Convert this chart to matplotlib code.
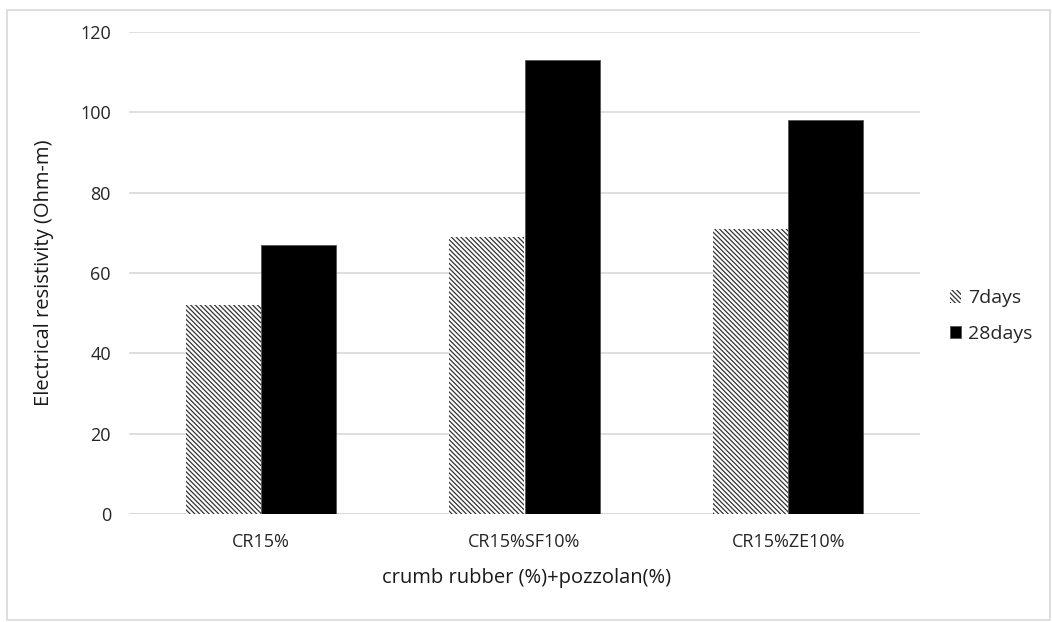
import matplotlib
matplotlib.use("Agg")
import matplotlib.pyplot as plt
import numpy as np
from matplotlib.patches import Rectangle

categories = ["CR15%", "CR15%SF10%", "CR15%ZE10%"]
days7 = [52, 69, 71]
days28 = [67, 113, 98]
yticks = [0, 20, 40, 60, 80, 100, 120]

plt.rcParams['font.family'] = ['Open Sans', 'DejaVu Sans']
plt.rcParams['hatch.linewidth'] = 0.9

fig = plt.figure(figsize=(10.52, 6.22), dpi=100)
ax = fig.add_axes([129/1052, 1-514/622, (920-129)/1052, (514-32)/622])

x = np.arange(len(categories))
w = 0.285
ax.bar(x - w/2, days7, w, facecolor='white', edgecolor='#333333', linewidth=0,
       hatch='\\' * 7, label='7days', zorder=3)
ax.bar(x + w/2, days28, w, color='black', edgecolor='#555555', linewidth=0.6, label='28days', zorder=3)

ax.set_xlim(-0.5, 2.5)
ax.set_ylim(0, 120)
ax.set_yticks(yticks)
ax.yaxis.grid(True, color='#d9d9d9', linewidth=1.2, zorder=0)
ax.set_axisbelow(True)
for s in ax.spines.values():
    s.set_visible(False)
ax.tick_params(length=0, labelsize=13, colors='#262626')
ax.tick_params(axis='y', pad=13)
ax.tick_params(axis='x', pad=14)
ax.set_xticks(x)
ax.set_xticklabels(categories)
ax.axhline(0, color='#d9d9d9', linewidth=1.2, zorder=1)

fig.text(527/1052, 1-578/622, "crumb rubber (%)+pozzolan(%)", ha='center', va='center', fontsize=14.5, color='#1a1a1a')
fig.text(44/1052, 1-273/622, "Electrical resistivity (Ohm-m)", ha='center', va='center', rotation=90, fontsize=14.5, color='#1a1a1a')

leg = fig.legend(loc='center left', bbox_to_anchor=(932/1052, 1-316/622), frameon=False,
                 fontsize=14, handlelength=0.6, handleheight=0.6, handletextpad=0.35, labelspacing=0.9)
for t in leg.get_texts():
    t.set_color('#262626')

fig.patches.append(Rectangle((7/1052, 2/622), 1043/1052, (620-10)/622, transform=fig.transFigure,
                             fill=False, edgecolor='#d9d9d9', linewidth=1.2))

fig.savefig("out.png", dpi=100)
